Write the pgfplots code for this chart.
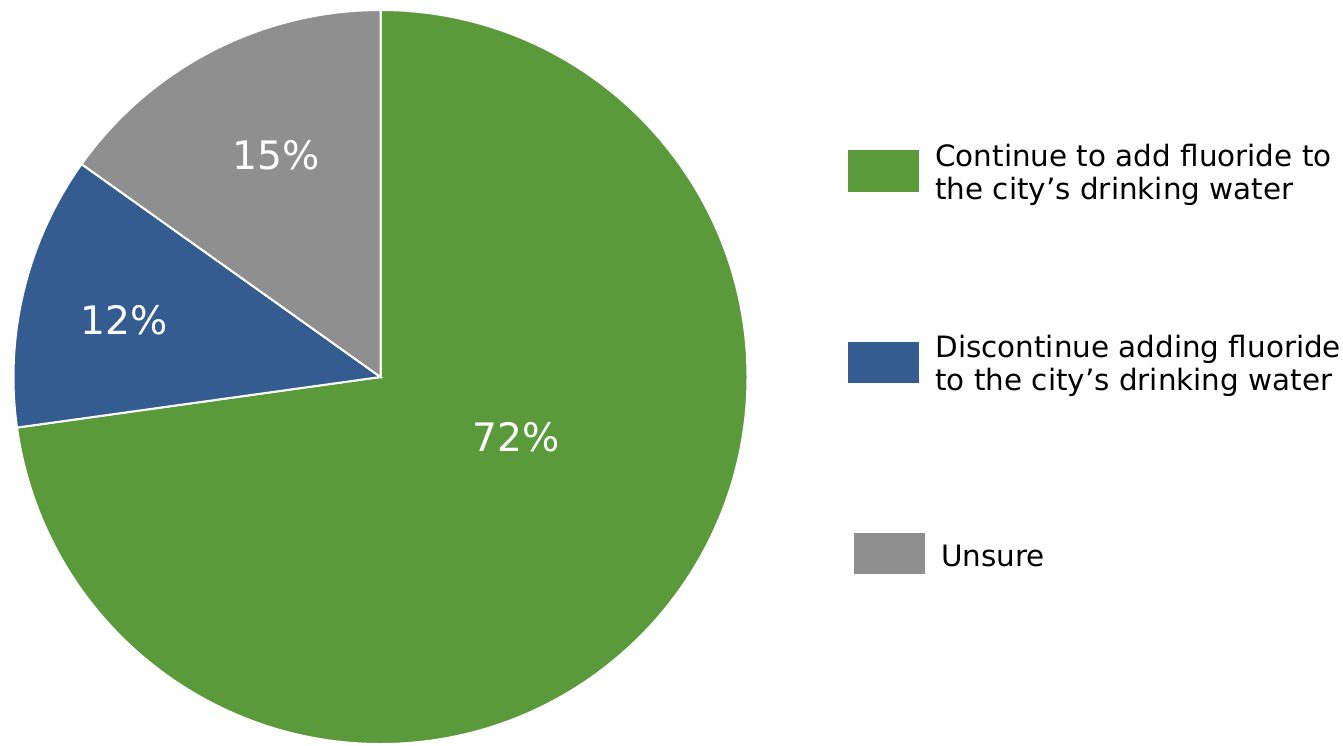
\documentclass[border=0pt]{standalone}
\usepackage{pgfplots}
\pgfplotsset{compat=1.18}
\usepackage{pgfplotstable}
\usepackage{fontspec}
\setmainfont{DejaVu Sans}
\definecolor{cgreen}{HTML}{5B9A3A}
\definecolor{cblue}{HTML}{345C91}
\definecolor{cgray}{HTML}{8F8F8F}
\pgfplotstableread{
label value
Continue 72.8
Discontinue 12.05
Unsure 15.15
}\piedata
\begin{document}
\begin{tikzpicture}
\pgfplotstablegetelem{0}{value}\of\piedata \let\vA\pgfplotsretval
\pgfplotstablegetelem{1}{value}\of\piedata \let\vB\pgfplotsretval
\pgfplotstablegetelem{2}{value}\of\piedata \let\vC\pgfplotsretval
\pgfmathsetmacro\aA{90-3.6*\vA}
\pgfmathsetmacro\aB{\aA-3.6*\vB}
\pgfmathsetmacro\aC{\aB-3.6*\vC}
\def\R{183.5pt}
\begin{axis}[hide axis, scale only axis, width=671.5pt, height=372.5pt,
  xmin=0, xmax=1343, ymin=0, ymax=745, y dir=reverse, clip=false]
\path (rel axis cs:0,0) rectangle (rel axis cs:1,1);
\fill[black!10] (axis cs:382,378) circle[radius=183pt];
\fill[black!22] (axis cs:381.5,377.8) circle[radius=182.5pt];
\filldraw[fill=cgreen, draw=white, line width=1pt] (axis cs:380.5,377) -- ++(90:\R) arc[start angle=90, end angle=\aA, radius=\R] -- cycle;
\filldraw[fill=cblue, draw=white, line width=1pt] (axis cs:380.5,377) -- ++(\aA:\R) arc[start angle=\aA, end angle=\aB, radius=\R] -- cycle;
\filldraw[fill=cgray, draw=white, line width=1pt] (axis cs:380.5,377) -- ++(\aB:\R) arc[start angle=\aB, end angle=\aC, radius=\R] -- cycle;
\node[text=white, font=\fontsize{19.6}{23}\selectfont] at (axis cs:516,437) {72\%};
\node[text=white, font=\fontsize{19.6}{23}\selectfont] at (axis cs:124,320) {12\%};
\node[text=white, font=\fontsize{19.6}{23}\selectfont] at (axis cs:276,155) {15\%};
% legend
\fill[cgreen] (axis cs:848,150) rectangle (axis cs:919,192);
\fill[cblue] (axis cs:848,342) rectangle (axis cs:919,383);
\fill[cgray] (axis cs:854,533) rectangle (axis cs:925,574);
\begin{scope}[every node/.style={anchor=base west, inner sep=0pt, font=\fontsize{14.7}{16.5}\selectfont}]
\node at (axis cs:935,166) {Continue to add fluoride to};
\node at (axis cs:935,199) {the city’s drinking water};
\node at (axis cs:935,357) {Discontinue adding fluoride};
\node at (axis cs:935,390) {to the city’s drinking water};
\node at (axis cs:941,566) {Unsure};
\end{scope}
\end{axis}
\end{tikzpicture}
\end{document}
